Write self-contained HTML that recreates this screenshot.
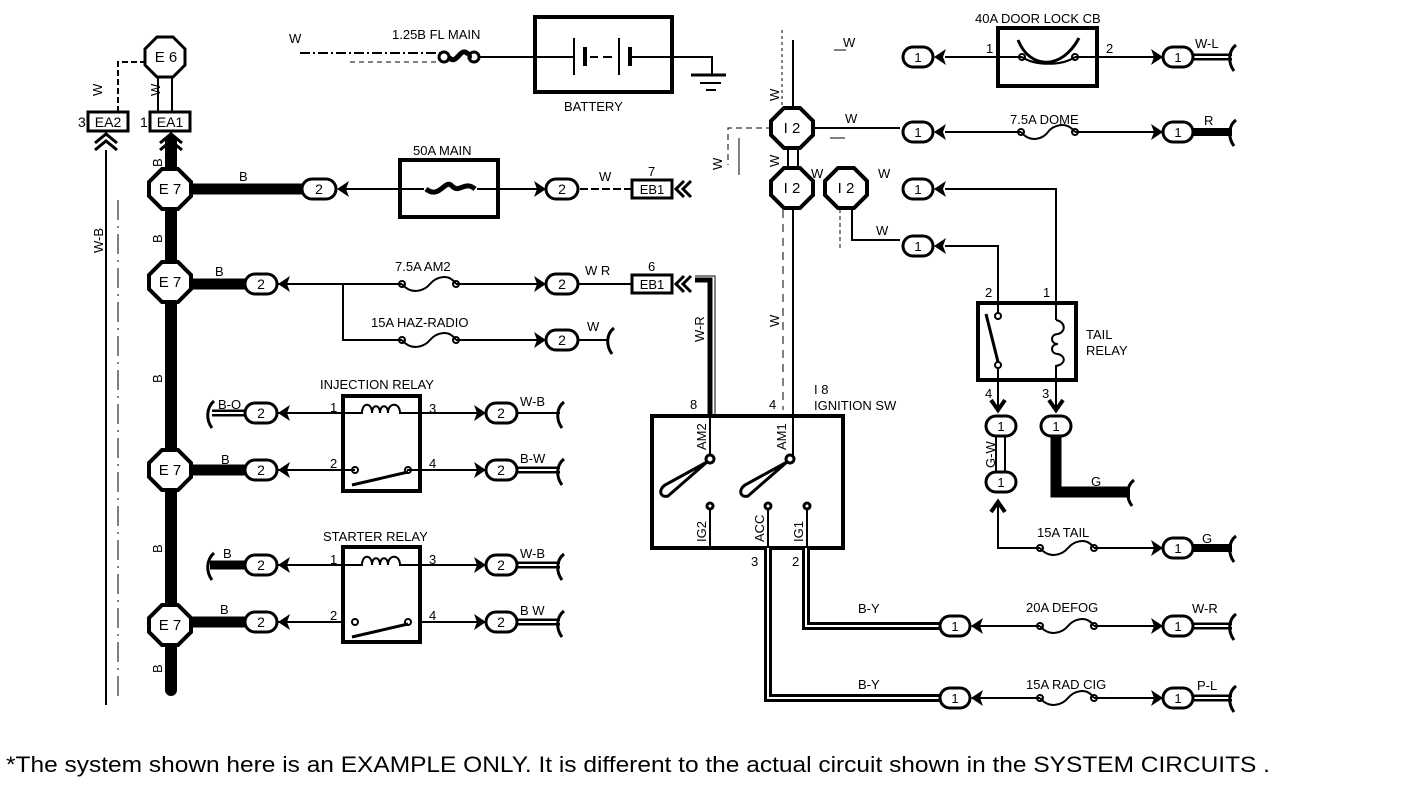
<!DOCTYPE html>
<html><head><meta charset="utf-8"><style>
html,body{margin:0;padding:0;background:#fff;width:1408px;height:790px;overflow:hidden}
svg{display:block}
text{font-family:"Liberation Sans",sans-serif;fill:#000}
</style></head><body>
<svg width="1408" height="790" viewBox="0 0 1408 790" xmlns="http://www.w3.org/2000/svg">
<g fill="none" stroke="#000" stroke-width="2">

<line x1="171" y1="140" x2="171" y2="690" stroke-width="12" stroke-linecap="round"/>
<line x1="106" y1="150" x2="106" y2="705"/>
<line x1="118" y1="200" x2="118" y2="700" stroke-dasharray="20,6,2,6" stroke-width="1"/>
<line x1="158" y1="77" x2="158" y2="112"/><line x1="172" y1="77" x2="172" y2="112"/>
<polyline points="146,62 118,62 118,112" stroke-dasharray="6,3"/>
<rect x="150" y="112" width="40" height="19" stroke-width="3"/>
<rect x="88" y="112" width="40" height="19" stroke-width="3"/>
<polyline points="160,143 171,134 182,143" stroke-width="3"/><polyline points="160,150 171,141 182,150" stroke-width="3"/>
<polyline points="95,143 106,134 117,143" stroke-width="3"/><polyline points="95,150 106,141 117,150" stroke-width="3"/>

<line x1="171" y1="189" x2="302" y2="189" stroke-width="11"/>
<line x1="340" y1="189" x2="400" y2="189"/>
<rect x="400" y="160" width="98" height="57" stroke-width="4"/>
<line x1="400" y1="189" x2="424" y2="189"/><line x1="477" y1="189" x2="540" y2="189"/>
<path d="M426,189 C440,200 445,178 452,186 S465,180 475,189" stroke-width="5"/>
<line x1="580" y1="189" x2="632" y2="189" stroke-dasharray="8,3"/>
<rect x="632" y="180" width="40" height="18" stroke-width="3"/>
<polyline points="684,181 676,189 684,197" stroke-width="3"/><polyline points="691,181 683,189 691,197" stroke-width="3"/>

<line x1="171" y1="284" x2="245" y2="284" stroke-width="11"/>
<line x1="277" y1="284" x2="402" y2="284"/>
<line x1="456" y1="284" x2="540" y2="284"/>
<path d="M402,284 C412,296 425,290 430,284 S448,272 456,284"/>
<circle cx="402" cy="284" r="3"/><circle cx="456" cy="284" r="3"/>
<polyline points="343,284 343,340 402,340"/>
<line x1="456" y1="340" x2="540" y2="340"/>
<path d="M402,340 C412,352 425,346 430,340 S448,328 456,340"/>
<circle cx="402" cy="340" r="3"/><circle cx="456" cy="340" r="3"/>
<line x1="578" y1="340" x2="608" y2="340"/>
<path d="M614,328 C606,334 606,346 612,354" stroke-width="3"/>
<line x1="578" y1="284" x2="632" y2="284"/>
<rect x="632" y="275" width="40" height="18" stroke-width="3"/>
<polyline points="684,276 676,284 684,292" stroke-width="3"/><polyline points="691,276 683,284 691,292" stroke-width="3"/>
<polyline points="695,280 710,280 710,416" stroke-width="5"/>
<polyline points="695,276 715,276 715,416" stroke-width="1"/>

<rect x="343" y="396" width="77" height="95" stroke-width="4"/>
<line x1="277" y1="413" x2="343" y2="413"/><line x1="420" y1="413" x2="485" y2="413"/>
<path d="M343,413 L362,413 C362,402 372,402 372,413 C372,404 380,404 380,413 C380,404 388,404 388,413 C388,402 400,402 400,413 L420,413"/>
<line x1="277" y1="470" x2="343" y2="470"/><line x1="420" y1="470" x2="485" y2="470"/>
<line x1="343" y1="470" x2="355" y2="470"/><circle cx="355" cy="470" r="3"/>
<line x1="407" y1="470" x2="420" y2="470"/><circle cx="408" cy="470" r="3"/>
<line x1="352" y1="485" x2="408" y2="472" stroke-width="3"/>
<line x1="212" y1="413" x2="245" y2="413" stroke-width="7"/><line x1="212" y1="413" x2="245" y2="413" stroke="#fff" stroke-width="2"/>
<path d="M214,401 C206,408 206,420 212,428" stroke-width="3"/>
<line x1="171" y1="470" x2="245" y2="470" stroke-width="11"/>
<line x1="517" y1="413" x2="560" y2="413"/>
<line x1="517" y1="470" x2="560" y2="470" stroke-width="7"/><line x1="517" y1="470" x2="560" y2="470" stroke="#fff" stroke-width="2"/>
<path d="M564,402 C556,408 556,420 562,428" stroke-width="3"/>
<path d="M564,459 C556,465 556,477 562,485" stroke-width="3"/>

<rect x="343" y="547" width="77" height="95" stroke-width="4"/>
<line x1="277" y1="565" x2="343" y2="565"/><line x1="420" y1="565" x2="485" y2="565"/>
<path d="M343,565 L362,565 C362,554 372,554 372,565 C372,556 380,556 380,565 C380,556 388,556 388,565 C388,554 400,554 400,565 L420,565"/>
<line x1="277" y1="622" x2="343" y2="622"/><line x1="420" y1="622" x2="485" y2="622"/>
<circle cx="355" cy="622" r="3"/><circle cx="408" cy="622" r="3"/>
<line x1="352" y1="637" x2="408" y2="624" stroke-width="3"/>
<line x1="210" y1="565" x2="245" y2="565" stroke-width="9"/>
<path d="M214,553 C206,560 206,572 212,580" stroke-width="3"/>
<line x1="171" y1="622" x2="245" y2="622" stroke-width="11"/>
<line x1="517" y1="565" x2="560" y2="565" stroke-width="7"/><line x1="517" y1="565" x2="560" y2="565" stroke="#fff" stroke-width="2"/>
<line x1="517" y1="622" x2="560" y2="622" stroke-width="7"/><line x1="517" y1="622" x2="560" y2="622" stroke="#fff" stroke-width="2"/>
<path d="M564,554 C556,560 556,572 562,580" stroke-width="3"/>
<path d="M564,611 C556,617 556,629 562,637" stroke-width="3"/>

<line x1="300" y1="53" x2="440" y2="53" stroke-dasharray="10,3,2,3"/>
<line x1="350" y1="62" x2="440" y2="62" stroke-dasharray="5,4" stroke-width="1"/>
<circle cx="444" cy="57" r="5" stroke-width="3"/><circle cx="474" cy="57" r="5" stroke-width="3"/>
<path d="M449,57 C455,66 460,50 465,52 S470,58 469,57" stroke-width="5"/>
<line x1="479" y1="57" x2="535" y2="57"/>
<rect x="535" y="17" width="137" height="75" stroke-width="4"/>
<line x1="535" y1="57" x2="574" y2="57"/>
<line x1="574" y1="38" x2="574" y2="75"/><line x1="585" y1="47" x2="585" y2="66" stroke-width="4"/>
<line x1="590" y1="57" x2="598" y2="57"/><line x1="603" y1="57" x2="612" y2="57"/>
<line x1="619" y1="38" x2="619" y2="75"/><line x1="630" y1="47" x2="630" y2="66" stroke-width="4"/>
<polyline points="630,57 712,57 712,75"/>
<line x1="691" y1="75" x2="726" y2="75" stroke-width="3"/>
<line x1="700" y1="83" x2="721" y2="83"/><line x1="706" y1="90" x2="716" y2="90"/>

<line x1="793" y1="40" x2="793" y2="110"/>
<line x1="782" y1="30" x2="782" y2="110" stroke-dasharray="3,3" stroke-width="1"/>
<line x1="834" y1="50" x2="846" y2="50" stroke-width="1"/>
<line x1="813" y1="128" x2="900" y2="128"/>
<line x1="830" y1="138" x2="845" y2="138" stroke-width="1"/>
<polyline points="772,128 728,128 728,165" stroke-dasharray="6,4" stroke-width="1"/>
<line x1="739" y1="138" x2="739" y2="175" stroke-width="1"/>
<line x1="788" y1="148" x2="788" y2="168"/><line x1="798" y1="148" x2="798" y2="168"/>
<line x1="793" y1="209" x2="793" y2="416"/>
<line x1="783" y1="210" x2="783" y2="410" stroke-dasharray="8,6" stroke-width="1"/>
<polyline points="852,209 852,240 900,240"/>
<line x1="840" y1="209" x2="840" y2="250" stroke-dasharray="4,3" stroke-width="1"/>

<line x1="945" y1="57" x2="998" y2="57"/>
<rect x="998" y="28" width="99" height="58" stroke-width="4"/>
<line x1="998" y1="57" x2="1022" y2="57"/><line x1="1075" y1="57" x2="1160" y2="57"/>
<path d="M1018,40 C1030,70 1062,70 1079,38" stroke-width="3"/>
<path d="M1022,57 C1035,66 1062,66 1075,57"/>
<circle cx="1022" cy="57" r="3"/><circle cx="1075" cy="57" r="3"/>
<line x1="1193" y1="57" x2="1232" y2="57" stroke-width="7"/><line x1="1193" y1="57" x2="1232" y2="57" stroke="#fff" stroke-width="2"/>
<path d="M1236,45 C1228,51 1228,63 1234,71" stroke-width="3"/>
<line x1="945" y1="132" x2="1021" y2="132"/><line x1="1075" y1="132" x2="1160" y2="132"/>
<path d="M1021,132 C1031,144 1044,138 1048,132 S1066,120 1075,132"/>
<circle cx="1021" cy="132" r="3"/><circle cx="1075" cy="132" r="3"/>
<line x1="1193" y1="132" x2="1232" y2="132" stroke-width="8"/>
<path d="M1236,120 C1228,126 1228,138 1234,146" stroke-width="3"/>
<polyline points="945,189 1056,189 1056,320"/>
<polyline points="945,246 998,246 998,313"/>
<rect x="978" y="303" width="98" height="77" stroke-width="4"/>
<circle cx="998" cy="316" r="3"/><circle cx="998" cy="365" r="3"/>
<line x1="986" y1="314" x2="998" y2="362" stroke-width="3"/>
<line x1="998" y1="368" x2="998" y2="400"/>
<path d="M1056,320 C1066,322 1066,332 1058,334 C1050,334 1050,344 1058,344 C1050,344 1050,354 1058,354 C1066,356 1066,364 1056,366 L1056,400"/>
<line x1="998" y1="380" x2="998" y2="412"/><line x1="1056" y1="380" x2="1056" y2="412"/>
<polyline points="991,400 998,410 1005,400" stroke-width="4"/>
<polyline points="1049,400 1056,410 1063,400" stroke-width="4"/>
<line x1="996" y1="436" x2="996" y2="472" stroke-width="2"/><line x1="1005" y1="436" x2="1005" y2="472" stroke-width="2"/>
<polyline points="1056,436 1056,492 1130,492" stroke-width="11"/>
<path d="M1134,480 C1126,486 1126,498 1132,506" stroke-width="3"/>
<polyline points="998,505 998,548 1040,548"/>
<polyline points="991,512 998,502 1005,512" stroke-width="4"/>
<path d="M1040,548 C1050,560 1063,554 1068,548 S1086,536 1094,548"/>
<circle cx="1040" cy="548" r="3"/><circle cx="1094" cy="548" r="3"/>
<line x1="1094" y1="548" x2="1160" y2="548"/>
<line x1="1193" y1="548" x2="1232" y2="548" stroke-width="8"/>
<path d="M1236,536 C1228,542 1228,554 1234,562" stroke-width="3"/>

<rect x="652" y="416" width="191" height="132" stroke-width="4"/>
<line x1="710" y1="416" x2="710" y2="456"/><circle cx="710" cy="459" r="4" stroke-width="3"/>
<path d="M707,462 L665,485 C658,490 660,498 668,496 L707,462" stroke-width="3"/>
<line x1="793" y1="416" x2="793" y2="456"/><circle cx="790" cy="459" r="4" stroke-width="3"/>
<path d="M787,462 L745,485 C738,490 740,498 748,496 L787,462" stroke-width="3"/>
<circle cx="710" cy="506" r="3" stroke-width="3"/><line x1="710" y1="509" x2="710" y2="548"/>
<circle cx="768" cy="506" r="3" stroke-width="3"/><line x1="768" y1="509" x2="768" y2="548"/>
<circle cx="807" cy="506" r="3" stroke-width="3"/><line x1="807" y1="509" x2="807" y2="548"/>
<polyline points="806,548 806,626 940,626" stroke-width="8"/>
<polyline points="806,548 806,626 940,626" stroke="#fff" stroke-width="2"/>
<polyline points="768,548 768,698 940,698" stroke-width="8"/>
<polyline points="768,548 768,698 940,698" stroke="#fff" stroke-width="2"/>
<line x1="972" y1="626" x2="1040" y2="626"/><line x1="1094" y1="626" x2="1160" y2="626"/>
<path d="M1040,626 C1050,638 1063,632 1068,626 S1086,614 1094,626"/>
<circle cx="1040" cy="626" r="3"/><circle cx="1094" cy="626" r="3"/>
<line x1="1193" y1="626" x2="1232" y2="626" stroke-width="7"/><line x1="1193" y1="626" x2="1232" y2="626" stroke="#fff" stroke-width="2"/>
<path d="M1236,614 C1228,620 1228,632 1234,640" stroke-width="3"/>
<line x1="972" y1="698" x2="1040" y2="698"/><line x1="1094" y1="698" x2="1160" y2="698"/>
<path d="M1040,698 C1050,710 1063,704 1068,698 S1086,686 1094,698"/>
<circle cx="1040" cy="698" r="3"/><circle cx="1094" cy="698" r="3"/>
<line x1="1193" y1="698" x2="1232" y2="698" stroke-width="7"/><line x1="1193" y1="698" x2="1232" y2="698" stroke="#fff" stroke-width="2"/>
<path d="M1236,686 C1228,692 1228,704 1234,712" stroke-width="3"/>
</g>

<g fill="#000">
<path d="M0,0 L12,-8 L9,0 L12,8 Z" transform="translate(337,189)"/>
<path d="M0,0 L12,-8 L9,0 L12,8 Z" transform="translate(278,284)"/>
<path d="M0,0 L12,-8 L9,0 L12,8 Z" transform="translate(278,413)"/>
<path d="M0,0 L12,-8 L9,0 L12,8 Z" transform="translate(278,470)"/>
<path d="M0,0 L12,-8 L9,0 L12,8 Z" transform="translate(278,565)"/>
<path d="M0,0 L12,-8 L9,0 L12,8 Z" transform="translate(278,622)"/>
<path d="M0,0 L12,-8 L9,0 L12,8 Z" transform="translate(934,57)"/>
<path d="M0,0 L12,-8 L9,0 L12,8 Z" transform="translate(934,132)"/>
<path d="M0,0 L12,-8 L9,0 L12,8 Z" transform="translate(934,189)"/>
<path d="M0,0 L12,-8 L9,0 L12,8 Z" transform="translate(934,246)"/>
<path d="M0,0 L12,-8 L9,0 L12,8 Z" transform="translate(971,626)"/>
<path d="M0,0 L12,-8 L9,0 L12,8 Z" transform="translate(971,698)"/>
<path d="M0,0 L-12,-8 L-9,0 L-12,8 Z" transform="translate(546,189)"/>
<path d="M0,0 L-12,-8 L-9,0 L-12,8 Z" transform="translate(546,284)"/>
<path d="M0,0 L-12,-8 L-9,0 L-12,8 Z" transform="translate(546,340)"/>
<path d="M0,0 L-12,-8 L-9,0 L-12,8 Z" transform="translate(486,413)"/>
<path d="M0,0 L-12,-8 L-9,0 L-12,8 Z" transform="translate(486,470)"/>
<path d="M0,0 L-12,-8 L-9,0 L-12,8 Z" transform="translate(486,565)"/>
<path d="M0,0 L-12,-8 L-9,0 L-12,8 Z" transform="translate(486,622)"/>
<path d="M0,0 L-12,-8 L-9,0 L-12,8 Z" transform="translate(1163,57)"/>
<path d="M0,0 L-12,-8 L-9,0 L-12,8 Z" transform="translate(1163,132)"/>
<path d="M0,0 L-12,-8 L-9,0 L-12,8 Z" transform="translate(1163,548)"/>
<path d="M0,0 L-12,-8 L-9,0 L-12,8 Z" transform="translate(1163,626)"/>
<path d="M0,0 L-12,-8 L-9,0 L-12,8 Z" transform="translate(1163,698)"/>
</g>

<g fill="#fff" stroke="#000" stroke-width="3">
<rect x="302" y="179" width="34" height="20" rx="10"/>
<rect x="245" y="274" width="32" height="20" rx="10"/>
<rect x="546" y="179" width="32" height="20" rx="10"/>
<rect x="546" y="274" width="32" height="20" rx="10"/>
<rect x="546" y="330" width="32" height="20" rx="10"/>
<rect x="245" y="403" width="32" height="20" rx="10"/>
<rect x="245" y="460" width="32" height="20" rx="10"/>
<rect x="245" y="555" width="32" height="20" rx="10"/>
<rect x="245" y="612" width="32" height="20" rx="10"/>
<rect x="486" y="403" width="31" height="20" rx="10"/>
<rect x="486" y="460" width="31" height="20" rx="10"/>
<rect x="486" y="555" width="31" height="20" rx="10"/>
<rect x="486" y="612" width="31" height="20" rx="10"/>
<rect x="903" y="47" width="30" height="20" rx="10"/>
<rect x="903" y="122" width="30" height="20" rx="10"/>
<rect x="903" y="179" width="30" height="20" rx="10"/>
<rect x="903" y="236" width="30" height="20" rx="10"/>
<rect x="1163" y="47" width="30" height="20" rx="10"/>
<rect x="1163" y="122" width="30" height="20" rx="10"/>
<rect x="1163" y="538" width="30" height="20" rx="10"/>
<rect x="1163" y="616" width="30" height="20" rx="10"/>
<rect x="1163" y="688" width="30" height="20" rx="10"/>
<rect x="940" y="616" width="30" height="20" rx="10"/>
<rect x="940" y="688" width="30" height="20" rx="10"/>
<rect x="986" y="416" width="30" height="20" rx="10"/>
<rect x="986" y="472" width="30" height="20" rx="10"/>
<rect x="1041" y="416" width="30" height="20" rx="10"/>
<polygon points="157,37 173,37 185,49 185,65 173,77 157,77 145,65 145,49"/>
<polygon points="162,169 178,169 191,182 191,196 178,209 162,209 149,196 149,182" stroke-width="4"/>
<polygon points="162,262 178,262 191,275 191,289 178,302 162,302 149,289 149,275" stroke-width="4"/>
<polygon points="162,450 178,450 191,463 191,477 178,490 162,490 149,477 149,463" stroke-width="4"/>
<polygon points="162,605 178,605 191,618 191,632 178,645 162,645 149,632 149,618" stroke-width="4"/>
<polygon points="784,108 800,108 813,121 813,135 800,148 784,148 771,135 771,121" stroke-width="4"/>
<polygon points="784,168 800,168 813,181 813,195 800,208 784,208 771,195 771,181" stroke-width="4"/>
<polygon points="838,168 854,168 867,181 867,195 854,208 838,208 825,195 825,181" stroke-width="4"/>
</g>

<g font-size="14" text-anchor="middle">
<text x="319" y="194">2</text><text x="261" y="289">2</text><text x="562" y="194">2</text>
<text x="562" y="289">2</text><text x="562" y="345">2</text>
<text x="261" y="418">2</text><text x="261" y="475">2</text><text x="261" y="570">2</text><text x="261" y="627">2</text>
<text x="501" y="418">2</text><text x="501" y="475">2</text><text x="501" y="570">2</text><text x="501" y="627">2</text>
<g font-size="13">
<text x="918" y="62">1</text><text x="918" y="137">1</text><text x="918" y="194">1</text><text x="918" y="251">1</text>
<text x="1178" y="62">1</text><text x="1178" y="137">1</text><text x="1178" y="553">1</text><text x="1178" y="631">1</text><text x="1178" y="703">1</text>
<text x="955" y="631">1</text><text x="955" y="703">1</text>
<text x="1001" y="431">1</text><text x="1001" y="487">1</text><text x="1056" y="431">1</text>
</g>
<text x="166" y="62" font-size="15">E 6</text>
<text x="170" y="194" font-size="15">E 7</text><text x="170" y="287" font-size="15">E 7</text>
<text x="170" y="475" font-size="15">E 7</text><text x="170" y="630" font-size="15">E 7</text>
<text x="792" y="133" font-size="15">I 2</text><text x="792" y="193" font-size="15">I 2</text><text x="846" y="193" font-size="15">I 2</text>
<text x="170" y="127" font-size="14">EA1</text><text x="108" y="127" font-size="14">EA2</text>
<text x="652" y="194" font-size="13">EB1</text><text x="652" y="289" font-size="13">EB1</text>
</g>

<g font-size="13">
<text x="78" y="127" font-size="14">3</text><text x="140" y="127" font-size="14">1</text>
<text x="289" y="43">W</text>
<text x="392" y="39">1.25B FL MAIN</text>
<text x="564" y="111">BATTERY</text>
<text x="413" y="155">50A MAIN</text>
<text x="239" y="181">B</text><text x="215" y="276">B</text>
<text x="599" y="181">W</text><text x="648" y="176">7</text>
<text x="395" y="271">7.5A AM2</text>
<text x="585" y="275">W  R</text><text x="648" y="271">6</text>
<text x="371" y="327">15A HAZ-RADIO</text>
<text x="587" y="331">W</text>
<text x="320" y="389">INJECTION RELAY</text>
<text x="323" y="541">STARTER RELAY</text>
<text x="218" y="409">B-O</text><text x="221" y="464">B</text>
<text x="223" y="558">B</text><text x="220" y="614">B</text>
<text x="330" y="412">1</text><text x="429" y="413">3</text><text x="330" y="468">2</text><text x="429" y="468">4</text>
<text x="330" y="564">1</text><text x="429" y="564">3</text><text x="330" y="620">2</text><text x="429" y="620">4</text>
<text x="520" y="406">W-B</text><text x="520" y="463">B-W</text><text x="520" y="558">W-B</text><text x="520" y="615">B W</text>
<text x="690" y="409">8</text><text x="769" y="409">4</text>
<text x="814" y="394">I 8</text><text x="814" y="410">IGNITION SW</text>
<text x="751" y="566">3</text><text x="792" y="566">2</text>
<text x="858" y="613">B-Y</text><text x="858" y="689">B-Y</text>
<text x="843" y="47">W</text><text x="845" y="123">W</text>
<text x="811" y="178">W</text><text x="878" y="178">W</text><text x="876" y="235">W</text>
<text x="975" y="23">40A DOOR LOCK CB</text>
<text x="986" y="53">1</text><text x="1106" y="53">2</text>
<text x="1195" y="48">W-L</text>
<text x="1010" y="124">7.5A DOME</text><text x="1204" y="125">R</text>
<text x="985" y="297">2</text><text x="1043" y="297">1</text>
<text x="1086" y="339">TAIL</text><text x="1086" y="355">RELAY</text>
<text x="985" y="398">4</text><text x="1042" y="398">3</text>
<text x="1091" y="486">G</text>
<text x="1037" y="537">15A TAIL</text><text x="1202" y="543">G</text>
<text x="1026" y="612">20A DEFOG</text><text x="1192" y="613">W-R</text>
<text x="1026" y="689">15A RAD CIG</text><text x="1197" y="690">P-L</text>
</g>
<g font-size="13">
<text transform="translate(102,96) rotate(-90)">W</text>
<text transform="translate(160,96) rotate(-90)">W</text>
<text transform="translate(162,167) rotate(-90)">B</text>
<text transform="translate(162,243) rotate(-90)">B</text>
<text transform="translate(162,383) rotate(-90)">B</text>
<text transform="translate(162,553) rotate(-90)">B</text>
<text transform="translate(162,673) rotate(-90)">B</text>
<text transform="translate(103,253) rotate(-90)">W-B</text>
<text transform="translate(704,342) rotate(-90)">W-R</text>
<text transform="translate(779,327) rotate(-90)">W</text>
<text transform="translate(779,101) rotate(-90)">W</text>
<text transform="translate(779,167) rotate(-90)">W</text>
<text transform="translate(722,170) rotate(-90)">W</text>
<text transform="translate(706,450) rotate(-90)">AM2</text>
<text transform="translate(786,450) rotate(-90)">AM1</text>
<text transform="translate(706,542) rotate(-90)">IG2</text>
<text transform="translate(764,542) rotate(-90)">ACC</text>
<text transform="translate(803,542) rotate(-90)">IG1</text>
<text transform="translate(995,468) rotate(-90)">G-W</text>
</g>
<text x="6" y="772" font-size="22" textLength="1264" lengthAdjust="spacingAndGlyphs">*The system shown here is an EXAMPLE ONLY. It is different to the actual circuit shown in the SYSTEM CIRCUITS .</text>
</svg>
</body></html>
